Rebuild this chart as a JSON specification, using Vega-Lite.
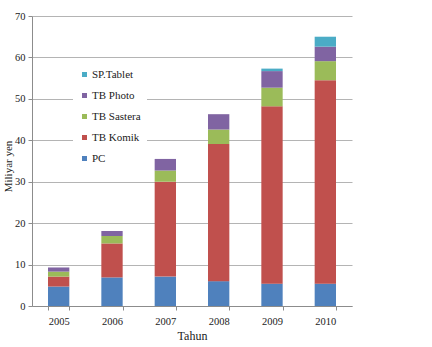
{
  "$schema": "https://vega.github.io/schema/vega-lite/v6.json",
  "autosize": "none",
  "padding": {"left": 32, "top": 16, "right": 80, "bottom": 41},
  "width": 320,
  "height": 290,
  "background": "white",
  "config": {
    "font": "Liberation Serif",
    "view": {"stroke": null}
  },
  "data": {
    "values": [
      {"tahun": "2005", "seri": "PC", "urut": 1, "nilai": 4.7},
      {"tahun": "2005", "seri": "TB Komik", "urut": 2, "nilai": 2.4},
      {"tahun": "2005", "seri": "TB Sastera", "urut": 3, "nilai": 1.2},
      {"tahun": "2005", "seri": "TB Photo", "urut": 4, "nilai": 1.0},
      {"tahun": "2006", "seri": "PC", "urut": 1, "nilai": 6.9},
      {"tahun": "2006", "seri": "TB Komik", "urut": 2, "nilai": 8.2},
      {"tahun": "2006", "seri": "TB Sastera", "urut": 3, "nilai": 1.8},
      {"tahun": "2006", "seri": "TB Photo", "urut": 4, "nilai": 1.2},
      {"tahun": "2007", "seri": "PC", "urut": 1, "nilai": 7.1},
      {"tahun": "2007", "seri": "TB Komik", "urut": 2, "nilai": 22.9},
      {"tahun": "2007", "seri": "TB Sastera", "urut": 3, "nilai": 2.7},
      {"tahun": "2007", "seri": "TB Photo", "urut": 4, "nilai": 2.8},
      {"tahun": "2008", "seri": "PC", "urut": 1, "nilai": 6.0},
      {"tahun": "2008", "seri": "TB Komik", "urut": 2, "nilai": 33.1},
      {"tahun": "2008", "seri": "TB Sastera", "urut": 3, "nilai": 3.5},
      {"tahun": "2008", "seri": "TB Photo", "urut": 4, "nilai": 3.7},
      {"tahun": "2009", "seri": "PC", "urut": 1, "nilai": 5.4},
      {"tahun": "2009", "seri": "TB Komik", "urut": 2, "nilai": 42.8},
      {"tahun": "2009", "seri": "TB Sastera", "urut": 3, "nilai": 4.5},
      {"tahun": "2009", "seri": "TB Photo", "urut": 4, "nilai": 4.0},
      {"tahun": "2009", "seri": "SP.Tablet", "urut": 5, "nilai": 0.6},
      {"tahun": "2010", "seri": "PC", "urut": 1, "nilai": 5.4},
      {"tahun": "2010", "seri": "TB Komik", "urut": 2, "nilai": 49.1},
      {"tahun": "2010", "seri": "TB Sastera", "urut": 3, "nilai": 4.6},
      {"tahun": "2010", "seri": "TB Photo", "urut": 4, "nilai": 3.5},
      {"tahun": "2010", "seri": "SP.Tablet", "urut": 5, "nilai": 2.4}
    ]
  },
  "mark": {"type": "bar"},
  "encoding": {
    "x": {
      "field": "tahun",
      "type": "ordinal",
      "scale": {"paddingInner": 0.6, "paddingOuter": 0.3},
      "axis": {
        "title": "Tahun",
        "titleFont": "Liberation Serif",
        "titleFontSize": 12,
        "titleFontWeight": "normal",
        "titleColor": "#222",
        "titlePadding": 4,
        "labelAngle": 0,
        "labelFont": "Liberation Serif",
        "labelFontSize": 10.5,
        "labelColor": "#222",
        "labelPadding": 6,
        "tickBand": "extent",
        "tickSize": 4,
        "tickColor": "#8c8c8c",
        "domainColor": "#8c8c8c",
        "grid": false
      }
    },
    "y": {
      "field": "nilai",
      "type": "quantitative",
      "aggregate": "sum",
      "stack": "zero",
      "scale": {"domain": [0, 70], "nice": false},
      "axis": {
        "title": "Miliyar yen",
        "titleFont": "Liberation Serif",
        "titleFontSize": 11,
        "titleFontWeight": "normal",
        "titleColor": "#222",
        "titleX": -19,
        "titleY": 150,
        "titleAngle": -90,
        "titleAlign": "center",
        "titleBaseline": "bottom",
        "values": [0, 10, 20, 30, 40, 50, 60, 70],
        "labelFont": "Liberation Serif",
        "labelFontSize": 10.5,
        "labelColor": "#222",
        "labelPadding": 3,
        "tickSize": 4,
        "tickColor": "#8c8c8c",
        "domainColor": "#8c8c8c",
        "gridColor": "#b4b4b4",
        "gridWidth": 1
      }
    },
    "color": {
      "field": "seri",
      "type": "nominal",
      "scale": {
        "domain": ["SP.Tablet", "TB Photo", "TB Sastera", "TB Komik", "PC"],
        "range": ["#4BACC6", "#8064A2", "#9BBB59", "#C0504D", "#4F81BD"]
      },
      "legend": {
        "title": null,
        "orient": "none",
        "legendX": 41,
        "legendY": 47,
        "fillColor": "white",
        "padding": 6,
        "symbolType": "square",
        "symbolSize": 25,
        "symbolStrokeWidth": 0,
        "labelFont": "Liberation Serif",
        "labelFontSize": 11,
        "labelColor": "#222",
        "labelOffset": 2,
        "rowPadding": 9
      }
    },
    "order": {"field": "urut", "type": "quantitative", "sort": "ascending"}
  }
}
